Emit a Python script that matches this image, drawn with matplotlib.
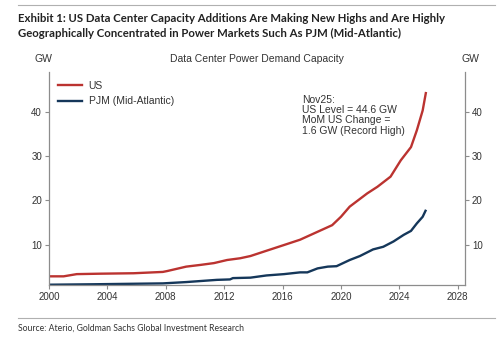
import matplotlib
matplotlib.use("Agg")
import matplotlib.pyplot as plt
from matplotlib.lines import Line2D

# US data center power demand capacity (GW), by date (decimal years)
us_years = [2000.0, 2001.0, 2001.9, 2003.5, 2005.8, 2007.8, 2008.1, 2009.4, 2010.4,
            2011.3, 2012.2, 2013.1, 2013.8, 2014.9, 2016.1, 2017.2, 2018.4, 2019.4,
            2020.0, 2020.6, 2021.8, 2022.5, 2023.4, 2024.1, 2024.8, 2025.2, 2025.6,
            2025.83]
us_gw = [2.8, 2.8, 3.3, 3.4, 3.5, 3.8, 4.0, 5.0, 5.4,
         5.8, 6.5, 6.9, 7.4, 8.6, 9.9, 11.1, 12.9, 14.4,
         16.3, 18.6, 21.6, 23.1, 25.4, 29.1, 32.1, 35.9, 40.4,
         44.6]

# PJM (Mid-Atlantic) capacity (GW)
pjm_years = [2000.0, 2003.0, 2007.8, 2009.4, 2011.5, 2012.4, 2012.6, 2013.8, 2014.9,
             2016.1, 2017.2, 2017.7, 2018.4, 2019.1, 2019.7, 2020.6, 2021.3, 2022.2,
             2022.9, 2023.6, 2024.3, 2024.8, 2025.2, 2025.6, 2025.83]
pjm_gw = [0.9, 1.0, 1.2, 1.5, 2.0, 2.1, 2.4, 2.5, 3.0,
          3.3, 3.7, 3.7, 4.6, 5.0, 5.1, 6.5, 7.4, 8.9,
          9.5, 10.7, 12.2, 13.1, 14.8, 16.3, 17.9]

series_names = ["US", "PJM (Mid-Atlantic)"]
x_ticks = [2000, 2004, 2008, 2012, 2016, 2020, 2024, 2028]
y_ticks = [10, 20, 30, 40]

RED = "#bb3330"
NAVY = "#15375a"
TXT = "#333333"
SPINE = "#8c8c8c"

plt.rcParams["font.family"] = ["Liberation Sans", "DejaVu Sans"]

fig = plt.figure(figsize=(5.0, 3.38), dpi=100)
ax = fig.add_axes([0.098, 0.157, 0.832, 0.631])

ax.plot(us_years, us_gw, color=RED, lw=1.7, solid_capstyle="butt")
ax.plot(pjm_years, pjm_gw, color=NAVY, lw=1.7, solid_capstyle="butt")

ax.set_xlim(2000, 2028.5)
ax.set_ylim(0.85, 49.2)
ax.set_xticks(x_ticks)
ax.set_yticks(y_ticks)

ax.spines["top"].set_visible(False)
for side in ("left", "right", "bottom"):
    ax.spines[side].set_color(SPINE)
    ax.spines[side].set_linewidth(0.9)

ax.tick_params(axis="both", direction="out", length=3, width=0.8, color=SPINE,
               labelsize=7, labelcolor=TXT, pad=2)
ax.tick_params(axis="y", left=True, right=True, labelleft=True, labelright=True)

handles = [Line2D([], [], color=RED, lw=1.7), Line2D([], [], color=NAVY, lw=1.7)]
ax.legend(handles, series_names, loc="upper left", bbox_to_anchor=(0.0, 1.0),
          frameon=False, fontsize=7.5, handlelength=2.3, handletextpad=0.6,
          labelspacing=0.5, borderaxespad=0.5, labelcolor=TXT)

ax.text(2017.33, 44.0, "Nov25:\nUS Level = 44.6 GW\nMoM US Change =\n1.6 GW (Record High)",
        fontsize=7.5, color=TXT, va="top", ha="left", linespacing=1.05)

# axis unit labels and chart title
fig.text(43 / 500, 1 - 59 / 338, "GW", fontsize=7.5, color=TXT, ha="center", va="center")
fig.text(470 / 500, 1 - 59 / 338, "GW", fontsize=7.5, color=TXT, ha="center", va="center")
fig.text(257 / 500, 1 - 59 / 338, "Data Center Power Demand Capacity", fontsize=7.5,
         color=TXT, ha="center", va="center")

# exhibit header with rules
fig.add_artist(Line2D([18 / 500, 495 / 500], [1 - 5 / 338, 1 - 5 / 338], color="#b0b0b0", lw=0.8))
fig.text(18 / 500, 1 - 18 / 338,
         "Exhibit 1: US Data Center Capacity Additions Are Making New Highs and Are Highly",
         family="Lato", weight="bold", fontsize=8.2, color="#222222", va="center", ha="left")
fig.text(18 / 500, 1 - 33 / 338,
         "Geographically Concentrated in Power Markets Such As PJM (Mid-Atlantic)",
         family="Lato", weight="bold", fontsize=8.2, color="#222222", va="center", ha="left")

fig.add_artist(Line2D([18 / 500, 495 / 500], [1 - 318 / 338, 1 - 318 / 338], color="#b0b0b0", lw=0.8))
fig.text(18 / 500, 1 - 328 / 338, "Source: Aterio, Goldman Sachs Global Investment Research",
         family="Lato", fontsize=6.2, color="#333333", va="center", ha="left")

fig.savefig("out.png", dpi=100)
